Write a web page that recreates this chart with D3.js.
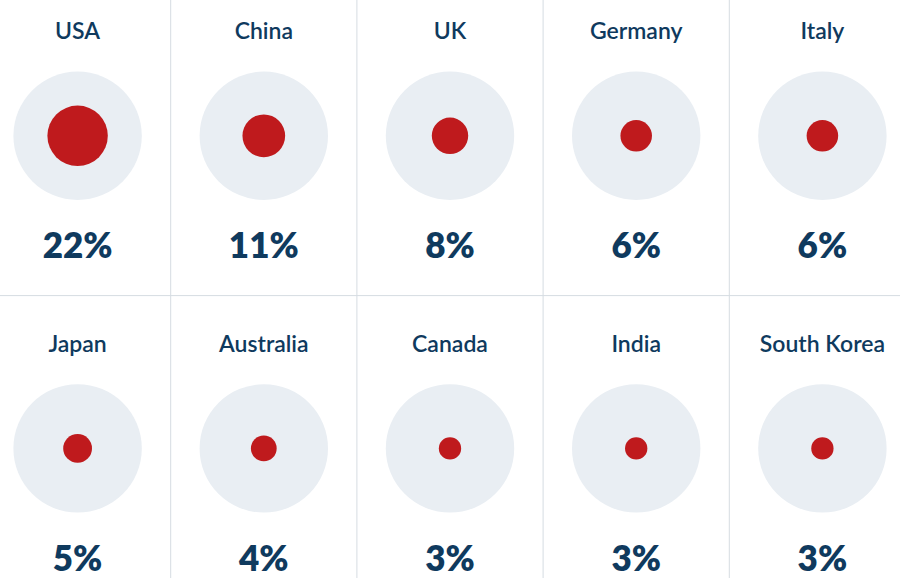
<!DOCTYPE html>
<html><head><meta charset="utf-8">
<script src="https://cdn.jsdelivr.net/npm/d3@7"></script>
<style>
html,body{margin:0;padding:0;background:#fff;}
svg{display:block;}
</style></head>
<body>
<svg id="chart" width="900" height="578"></svg>
<script>
const countries = ["USA","China","UK","Germany","Italy","Japan","Australia","Canada","India","South Korea"];
const shares = [22,11,8,6,6,5,4,3,3,3];
const valueLabels = ["22%","11%","8%","6%","6%","5%","4%","3%","3%","3%"];

const W = 900, H = 578;
const nCols = 5, nRows = 2;
const colW = 186.2, rowH = 312.6;
const x0 = 77.6 - colW/2; // first column starts partly off-canvas
const y0 = -17;

const svg = d3.select("#chart");

const x = d3.scaleBand().domain(d3.range(nCols)).range([x0, x0 + colW*nCols]).padding(0);
const y = d3.scaleBand().domain(d3.range(nRows)).range([y0, y0 + rowH*nRows]).padding(0);
const r = d3.scaleSqrt().domain([0, 22]).range([0, 30.2]);

// grid lines
const vLines = d3.range(1, nCols);
svg.selectAll("line.v").data(vLines).join("line")
  .attr("x1", d => x(d)).attr("x2", d => x(d))
  .attr("y1", 0).attr("y2", H)
  .attr("stroke", "#d6dce2").attr("stroke-width", 1);
svg.selectAll("line.h").data([1]).join("line")
  .attr("x1", 0).attr("x2", W)
  .attr("y1", d => y(d)).attr("y2", d => y(d))
  .attr("stroke", "#d6dce2").attr("stroke-width", 1);

const data = countries.map((c, i) => ({name: c, v: shares[i], label: valueLabels[i], col: i % nCols, row: Math.floor(i / nCols)}));

const cells = svg.selectAll("g.cell").data(data).join("g")
  .attr("class", "cell")
  .attr("transform", d => `translate(${x(d.col) + colW/2},${y(d.row)})`);

cells.append("text")
  .attr("y", 56)
  .attr("text-anchor", "middle")
  .attr("font-family", "Lato, 'Open Sans', sans-serif")
  .attr("font-weight", 600)
  .attr("font-size", 23)
  .attr("fill", "#0f3a5e")
  .text(d => d.name);

cells.append("circle")
  .attr("cy", 152.8)
  .attr("r", 64.2)
  .attr("fill", "#e9eef3");

cells.append("circle")
  .attr("cy", 152.8)
  .attr("r", d => r(d.v))
  .attr("fill", "#bf1a1d");

cells.append("text")
  .attr("y", 275)
  .attr("text-anchor", "middle")
  .attr("font-family", "Lato, 'Open Sans', sans-serif")
  .attr("font-weight", 800)
  .attr("font-size", 35)
  .attr("fill", "#0f3a5e")
  .text(d => d.label);
</script>
</body></html>
